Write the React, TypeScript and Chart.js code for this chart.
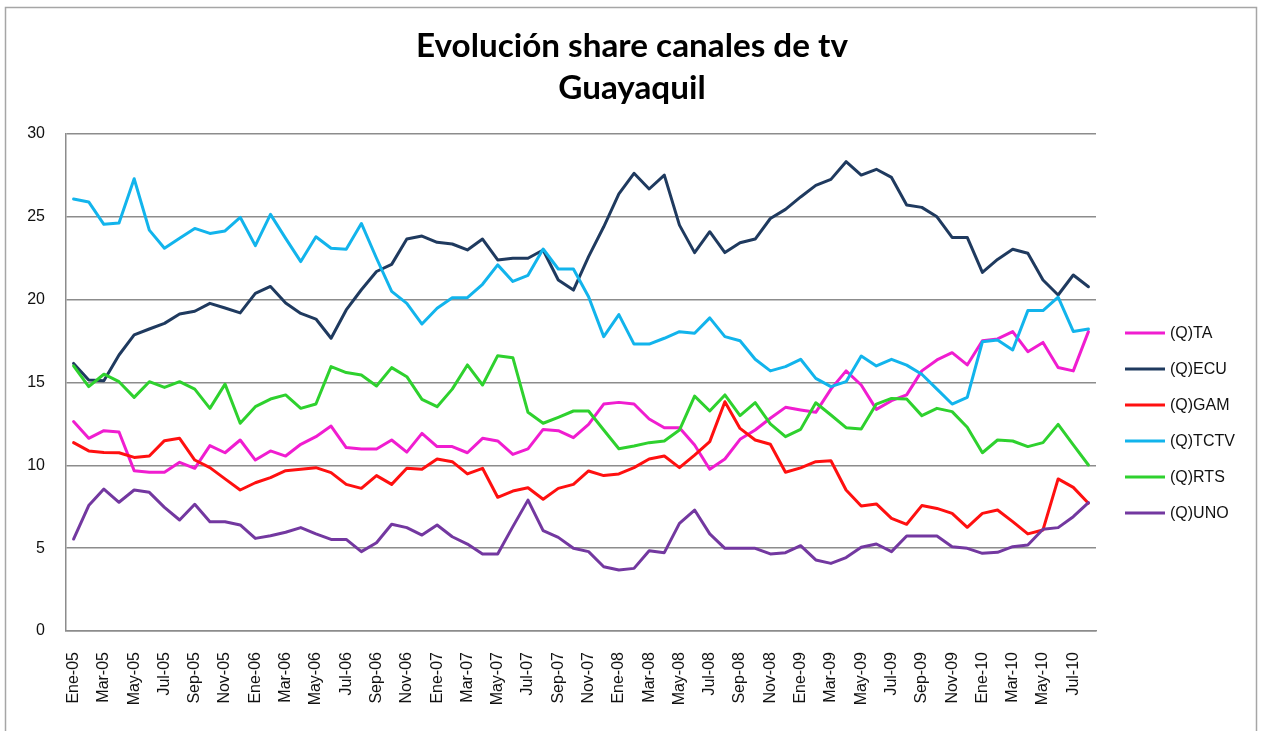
import { useEffect, useRef } from "react";
import { Chart, registerables } from "chart.js";

Chart.register(...registerables);

const MONTHS = ["Ene", "Feb", "Mar", "Abr", "May", "Jun", "Jul", "Ago", "Sep", "Oct", "Nov", "Dic"];
const YEARS = ["05", "06", "07", "08", "09", "10"];
const CATEGORIES = YEARS.flatMap((y) => MONTHS.map((m) => `${m}-${y}`)).slice(0, 68);

const TITLE = ["Evolución share canales de tv", "Guayaquil"];
const SERIES_NAMES = ["(Q)TA", "(Q)ECU", "(Q)GAM", "(Q)TCTV", "(Q)RTS", "(Q)UNO"];
const SERIES_COLORS = ["#F01DD0", "#1F3A5F", "#FF1010", "#12B4EC", "#2ED12E", "#7338A0"];

const TA = [12.64, 11.63, 12.09, 12.01, 9.68, 9.58, 9.58, 10.18, 9.82, 11.19, 10.76, 11.53, 10.32, 10.87, 10.56, 11.27, 11.73, 12.37, 11.07, 10.99, 10.99, 11.53, 10.8, 11.93, 11.13, 11.13, 10.76, 11.63, 11.47, 10.66, 10.99, 12.17, 12.09, 11.67, 12.47, 13.7, 13.8, 13.7, 12.8, 12.27, 12.27, 11.23, 9.76, 10.38, 11.57, 12.13, 12.84, 13.5, 13.34, 13.2, 14.6, 15.7, 14.85, 13.38, 13.9, 14.25, 15.7, 16.36, 16.8, 16.06, 17.52, 17.63, 18.07, 16.86, 17.42, 15.9, 15.7, 18.07];
const ECU = [16.15, 15.15, 15.1, 16.66, 17.87, 18.23, 18.57, 19.13, 19.3, 19.78, 19.5, 19.2, 20.38, 20.8, 19.8, 19.17, 18.83, 17.67, 19.38, 20.6, 21.7, 22.13, 23.66, 23.84, 23.46, 23.36, 23.0, 23.66, 22.4, 22.5, 22.5, 23.0, 21.19, 20.58, 22.6, 24.4, 26.38, 27.63, 26.68, 27.52, 24.5, 22.84, 24.1, 22.84, 23.44, 23.66, 24.9, 25.45, 26.2, 26.9, 27.26, 28.33, 27.52, 27.87, 27.38, 25.71, 25.57, 25.0, 23.76, 23.76, 21.65, 22.43, 23.04, 22.8, 21.19, 20.28, 21.49, 20.78];
const GAM = [11.37, 10.87, 10.78, 10.76, 10.48, 10.56, 11.49, 11.63, 10.32, 9.86, 9.18, 8.51, 8.95, 9.26, 9.68, 9.76, 9.86, 9.56, 8.85, 8.61, 9.38, 8.85, 9.82, 9.76, 10.38, 10.22, 9.48, 9.82, 8.07, 8.45, 8.65, 7.95, 8.61, 8.85, 9.66, 9.38, 9.48, 9.86, 10.38, 10.56, 9.86, 10.62, 11.43, 13.84, 12.23, 11.53, 11.27, 9.58, 9.85, 10.22, 10.28, 8.51, 7.55, 7.67, 6.8, 6.44, 7.57, 7.4, 7.1, 6.26, 7.1, 7.3, 6.6, 5.86, 6.1, 9.18, 8.67, 7.71];
const TCTV = [26.08, 25.9, 24.55, 24.63, 27.3, 24.2, 23.1, 23.7, 24.3, 24.0, 24.15, 24.97, 23.26, 25.15, 23.7, 22.3, 23.8, 23.1, 23.04, 24.6, 22.5, 20.5, 19.78, 18.53, 19.48, 20.12, 20.12, 20.93, 22.1, 21.1, 21.47, 23.06, 21.85, 21.85, 20.18, 17.77, 19.1, 17.32, 17.32, 17.67, 18.07, 17.97, 18.9, 17.77, 17.52, 16.4, 15.7, 15.96, 16.4, 15.25, 14.75, 15.05, 16.6, 16.0, 16.4, 16.05, 15.5, 14.6, 13.7, 14.1, 17.46, 17.56, 16.96, 19.34, 19.34, 20.15, 18.08, 18.23];
const RTS = [16.0, 14.75, 15.5, 15.05, 14.1, 15.05, 14.7, 15.05, 14.6, 13.44, 14.9, 12.54, 13.54, 14.0, 14.25, 13.44, 13.7, 15.96, 15.6, 15.45, 14.79, 15.9, 15.35, 13.98, 13.54, 14.6, 16.06, 14.85, 16.62, 16.5, 13.2, 12.54, 12.9, 13.28, 13.28, 12.13, 11.0, 11.17, 11.37, 11.47, 12.13, 14.18, 13.28, 14.25, 13.0, 13.78, 12.5, 11.73, 12.17, 13.78, 13.04, 12.27, 12.19, 13.7, 14.04, 14.0, 13.0, 13.44, 13.24, 12.3, 10.76, 11.53, 11.47, 11.13, 11.37, 12.47, 11.23, 10.02];
const UNO = [5.55, 7.57, 8.57, 7.77, 8.51, 8.37, 7.46, 6.7, 7.65, 6.6, 6.6, 6.4, 5.59, 5.75, 5.96, 6.24, 5.86, 5.53, 5.53, 4.79, 5.33, 6.44, 6.24, 5.79, 6.4, 5.69, 5.25, 4.65, 4.65, 6.3, 7.9, 6.06, 5.65, 4.99, 4.79, 3.88, 3.68, 3.78, 4.85, 4.73, 6.5, 7.3, 5.86, 4.99, 4.99, 4.99, 4.65, 4.73, 5.15, 4.29, 4.08, 4.43, 5.05, 5.25, 4.79, 5.73, 5.73, 5.73, 5.09, 4.99, 4.69, 4.75, 5.09, 5.19, 6.14, 6.24, 6.9, 7.75];

const SERIES_VALUES = [TA, ECU, GAM, TCTV, RTS, UNO];

const Y_MIN = 0;
const Y_MAX = 30;
const Y_STEP = 5;

const TICK_FONT = "Liberation Sans";
const TITLE_FONT = "Lato";

function fitTitleSize(text: string, target: number): number {
  const ctx = document.createElement("canvas").getContext("2d");
  if (!ctx) return 30;
  ctx.font = `bold 100px ${TITLE_FONT}`;
  const w = ctx.measureText(text).width || 1;
  return (100 * target) / w;
}

const framePlugin = {
  id: "frame",
  beforeDraw(chart: any) {
    const { ctx, width, height } = chart;
    ctx.save();
    ctx.fillStyle = "#ffffff";
    ctx.fillRect(0, 0, width, height);
    ctx.strokeStyle = "#a6a6a6";
    ctx.lineWidth = 1.5;
    ctx.strokeRect(5.5, 7.5, width - 13, height + 20);
    ctx.restore();
  },
};

const legendPlugin = {
  id: "sideLegend",
  afterDraw(chart: any) {
    const { ctx, chartArea } = chart;
    const x0 = chartArea.right + 29;
    const lineLen = 40;
    const y0 = 333;
    const gap = 36;
    ctx.save();
    ctx.font = `16px ${TICK_FONT}`;
    ctx.textBaseline = "middle";
    ctx.textAlign = "left";
    chart.data.datasets.forEach((ds: any, i: number) => {
      const y = y0 + gap * i;
      ctx.strokeStyle = ds.borderColor;
      ctx.lineWidth = 3;
      ctx.beginPath();
      ctx.moveTo(x0, y);
      ctx.lineTo(x0 + lineLen, y);
      ctx.stroke();
      ctx.fillStyle = "#111111";
      ctx.fillText(ds.label, x0 + lineLen + 5, y + 1);
    });
    ctx.restore();
  },
};

export default function App() {
  const canvasRef = useRef<HTMLCanvasElement | null>(null);

  useEffect(() => {
    if (!canvasRef.current) return;
    const titleSize = fitTitleSize(TITLE[0], 432);
    const chart = new Chart(canvasRef.current, {
      type: "line",
      data: {
        labels: CATEGORIES,
        datasets: SERIES_NAMES.map((name, i) => ({
          label: name,
          data: SERIES_VALUES[i],
          borderColor: SERIES_COLORS[i],
          backgroundColor: SERIES_COLORS[i],
          borderWidth: 3,
          pointRadius: 0,
          tension: 0,
          fill: false,
          borderJoinStyle: "round" as const,
          borderCapStyle: "round" as const,
          order: SERIES_NAMES.length - i,
        })),
      },
      options: {
        responsive: false,
        animation: false,
        layout: { padding: 0 },
        plugins: {
          legend: { display: false },
          tooltip: { enabled: false },
          title: {
            display: true,
            text: TITLE,
            color: "#000000",
            font: { family: TITLE_FONT, weight: "bold", size: titleSize, lineHeight: 42 / titleSize },
            padding: { top: 25, bottom: 25 },
          },
        },
        scales: {
          x: {
            type: "category",
            offset: true,
            grid: { display: false, drawTicks: false },
            border: { display: true, color: "#8c8c8c", width: 1.5 },
            ticks: {
              autoSkip: false,
              minRotation: 90,
              maxRotation: 90,
              padding: 21,
              color: "#111111",
              font: { family: TICK_FONT, size: 16 },
              callback: (_v: any, i: number) => (i % 2 === 0 ? CATEGORIES[i] : ""),
            },
            afterFit: (s: any) => {
              s.height = 100;
            },
          },
          y: {
            min: Y_MIN,
            max: Y_MAX,
            grid: { color: "#8c8c8c", lineWidth: 1.5, drawTicks: false },
            border: { display: true, color: "#8c8c8c", width: 1.5 },
            ticks: {
              stepSize: Y_STEP,
              padding: 21,
              color: "#111111",
              font: { family: TICK_FONT, size: 16 },
            },
            afterFit: (s: any) => {
              s.width = 66;
            },
          },
          legendSpace: {
            type: "linear",
            position: "right",
            display: true,
            grid: { display: false, drawTicks: false },
            border: { display: false },
            ticks: { display: false },
            afterFit: (s: any) => {
              s.width = 168;
            },
          },
        },
      },
      plugins: [framePlugin, legendPlugin],
    } as any);
    return () => chart.destroy();
  }, []);

  return (
    <div style={{ position: "fixed", left: 0, top: 0, width: 1264, height: 731, background: "#fff" }}>
      <canvas ref={canvasRef} width={1264} height={731} style={{ display: "block" }} />
    </div>
  );
}
